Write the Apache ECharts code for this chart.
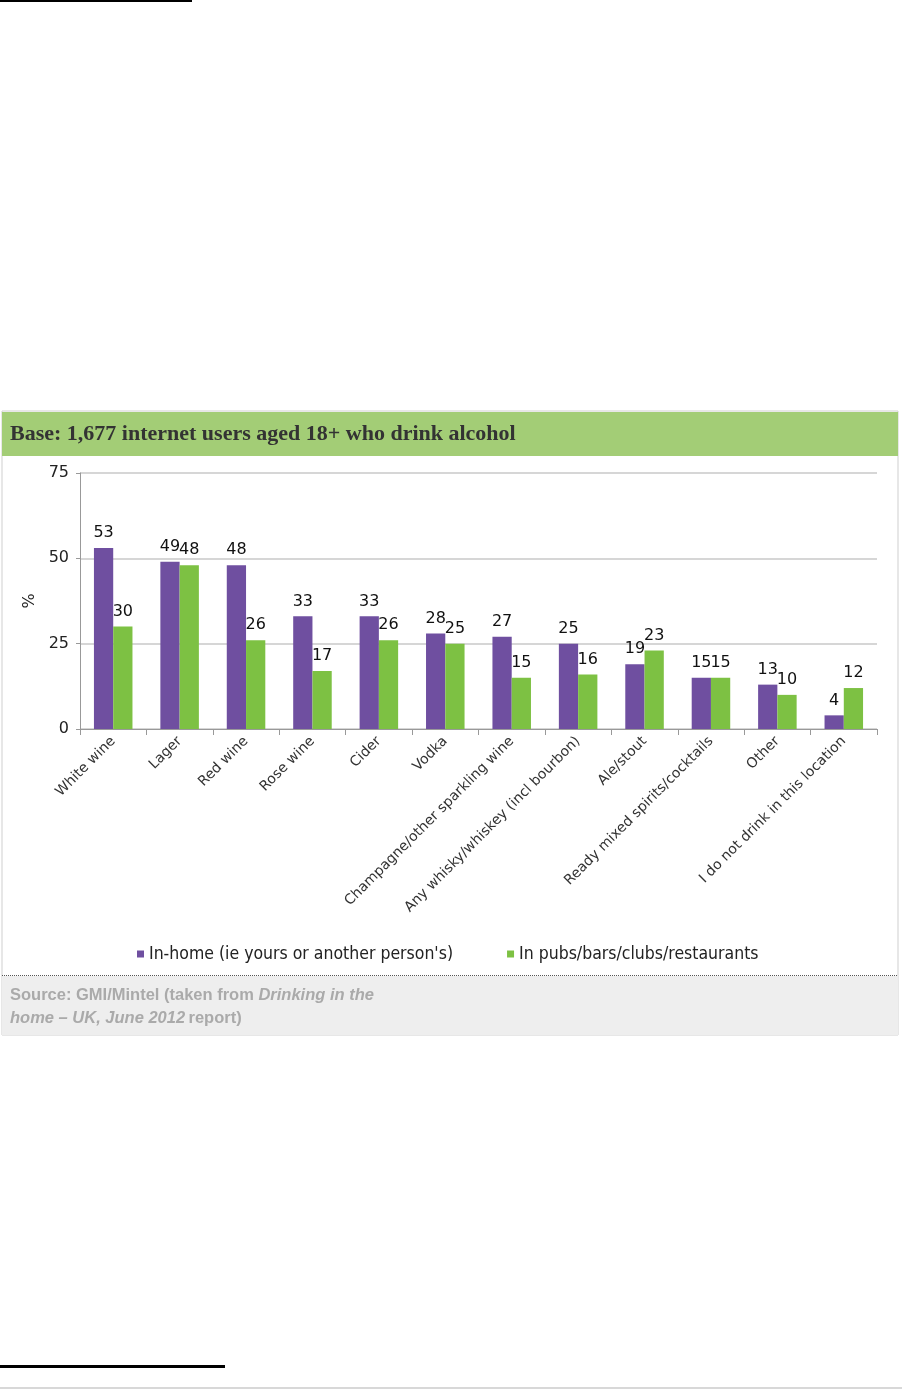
<!DOCTYPE html>
<html lang="en">
<head>
    <meta charset="UTF-8">
    <title>Drinking in the home</title>
    <style>
        html, body { margin: 0; padding: 0; background: #fff; }
        #chart { width: 902px; height: 1390px; }
    </style>
</head>
<body>
    <div id="chart"></div>

    <script src="https://cdn.jsdelivr.net/npm/echarts@6/dist/echarts.min.js"></script>
    <script>
        // data
        var categories = ['White wine', 'Lager', 'Red wine', 'Rose wine', 'Cider', 'Vodka',
            'Champagne/other sparkling wine', 'Any whisky/whiskey (incl bourbon)', 'Ale/stout',
            'Ready mixed spirits/cocktails', 'Other', 'I do not drink in this location'];
        var inHome = [53, 49, 48, 33, 33, 28, 27, 25, 19, 15, 13, 4];
        var inPubs = [30, 48, 26, 17, 26, 25, 15, 16, 23, 15, 10, 12];
        var seriesNames = ["In-home (ie yours or another person's)", 'In pubs/bars/clubs/restaurants'];
        var yTicks = [0, 25, 50, 75];

        var colors = ['#6f4fa0', '#7dc143'];
        var chart = echarts.init(document.getElementById('chart'));

        var srcStyle = {
            b: { fontFamily: 'Liberation Sans', fontWeight: 'bold', fontSize: 16.5, fill: '#aaa' },
            i: { fontFamily: 'Liberation Sans', fontWeight: 'bold', fontStyle: 'italic', fontSize: 16.5, fill: '#aaa' }
        };

        chart.setOption({
            animation: false,
            color: colors,
            textStyle: { fontFamily: 'DejaVu Sans' },
            graphic: [
                // page rules
                { type: 'rect', shape: { x: 0, y: 0, width: 192, height: 2 }, style: { fill: '#000' } },
                { type: 'rect', shape: { x: 0, y: 1365, width: 225, height: 3 }, style: { fill: '#000' } },
                { type: 'rect', shape: { x: 0, y: 1387, width: 902, height: 2 }, style: { fill: '#d8d8d8' } },
                // box
                { type: 'rect', z: -10, shape: { x: 2, y: 411, width: 896, height: 624 },
                    style: { fill: '#fff', stroke: '#cfcfcf', lineWidth: 1 } },
                { type: 'rect', z: -9, shape: { x: 2, y: 412, width: 896, height: 44 },
                    style: { fill: '#a3cd76' } },
                { type: 'text', x: 10, y: 434, z: 5,
                    style: { text: 'Base: 1,677 internet users aged 18+ who drink alcohol',
                        font: 'bold 22px "Liberation Serif", serif', fill: '#333', verticalAlign: 'middle' } },
                // footer
                { type: 'rect', z: -9, shape: { x: 2, y: 976, width: 896, height: 59 },
                    style: { fill: '#eeeeee' } },
                { type: 'line', z: 5, shape: { x1: 2, y1: 975.5, x2: 898, y2: 975.5 },
                    style: { stroke: '#555', lineWidth: 1, lineDash: [1, 1] } },
                { type: 'text', x: 10, y: 995, z: 5,
                    style: { rich: srcStyle, text: '{b|Source: GMI/Mintel (taken from }{i|Drinking in the}', verticalAlign: 'middle' } },
                { type: 'text', x: 10, y: 1018, z: 5,
                    style: { rich: srcStyle, text: '{i|home – UK, June 2012} {b|report)}', verticalAlign: 'middle' } }
            ],
            legend: {
                data: seriesNames,
                left: 132,
                top: 940,
                itemWidth: 7,
                itemHeight: 7,
                itemGap: 54,
                icon: 'rect',
                textStyle: { fontFamily: 'DejaVu Sans Condensed', fontSize: 17.5, color: '#222' }
            },
            grid: { left: 80, right: 25, top: 473, bottom: 661 },
            xAxis: {
                type: 'category',
                data: categories,
                axisLine: { lineStyle: { color: '#999' } },
                axisTick: { show: true, length: 6, lineStyle: { color: '#999' } },
                axisLabel: { rotate: 45, interval: 0, fontSize: 14, color: '#333', margin: 10 }
            },
            yAxis: {
                type: 'value',
                min: yTicks[0],
                max: yTicks[yTicks.length - 1],
                interval: 25,
                name: '%',
                nameLocation: 'middle',
                nameGap: 40,
                nameRotate: 90,
                nameTextStyle: { fontSize: 16, color: '#222' },
                axisLine: { show: true, lineStyle: { color: '#999' } },
                axisTick: { show: true, length: 4, lineStyle: { color: '#999' } },
                axisLabel: { fontSize: 16, color: '#222', margin: 11 },
                splitLine: { lineStyle: { color: '#d6d6d6', width: 2 } }
            },
            series: [
                {
                    name: seriesNames[0], type: 'bar', data: inHome,
                    barGap: '0%', barCategoryGap: '42%',
                    label: { show: true, position: 'top', fontSize: 16, color: '#111', distance: 7 }
                },
                {
                    name: seriesNames[1], type: 'bar', data: inPubs,
                    label: { show: true, position: 'top', fontSize: 16, color: '#111', distance: 7 }
                }
            ]
        });
    </script>
</body>
</html>
